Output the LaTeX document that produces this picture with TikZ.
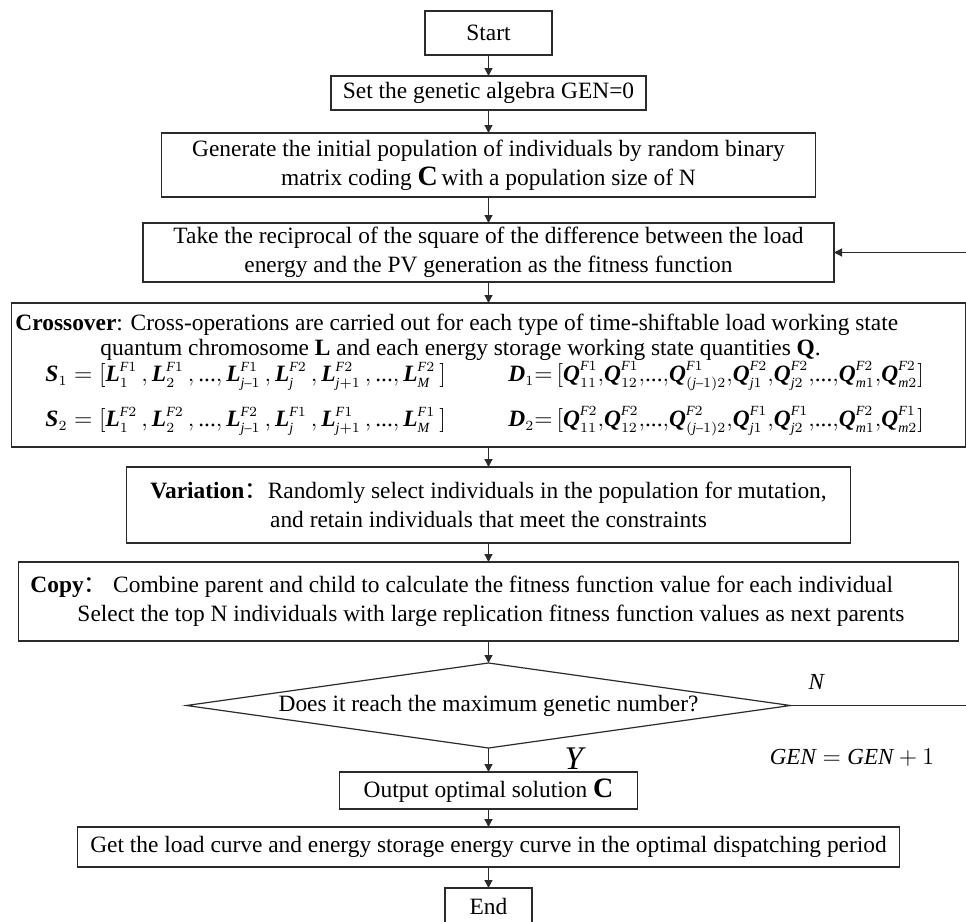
\documentclass[tikz,border=0pt]{standalone}
\usepackage{amsmath}
\usepackage{fontspec}
\setmainfont{Liberation Serif}
\newfontfamily\cjkfont{Noto Sans CJK SC}
\usetikzlibrary{
  arrows.meta,
  shapes.geometric,
  positioning
}
\DeclareMathSizes{11.7}{11.7}{7}{5.5}
\definecolor{gaLine}{HTML}{2B2B2B}
\newcommand{\gafont}{\fontsize{11.7}{14.5}\selectfont}
\newcommand{\gatight}{\fontsize{11.7}{12.5}\selectfont\lineskiplimit=-100pt\relax}
\newcommand{\bvar}[1]{\text{\bfseries\itshape #1}}
\newcommand{\gaj}{\mathit{j}}
\newcommand{\gaL}[2]{\bvar{L}_{#1}^{\mathit{F}#2}\,}
\newcommand{\gaQ}[2]{\bvar{Q}_{#1}^{\mathit{F}#2}}
\tikzset{
  gabox/.style={
    draw=gaLine, line width=0.6pt, inner xsep=2pt, inner ysep=0.5pt, outer sep=0pt,
    align=center, font=\gafont
  },
  gadecide/.style={gabox, diamond, aspect=7.1, inner sep=0pt},
  gaflow/.style={-{Triangle[length=4pt, width=4pt]}, line width=0.6pt, gaLine},
  gatag/.style={font=\fontsize{11.5}{12}\selectfont, inner sep=0pt, outer sep=0pt}
}

\begin{document}
\begin{tikzpicture}[x=0.5pt, y=-0.5pt, node distance=10.5pt]
  \useasboundingbox (0,0) rectangle (966,922);
  \node[gabox, minimum width=63.5pt, minimum height=22pt] (start) at (488.5,33) {Start};
  \node[gabox, minimum width=157.5pt, minimum height=17pt, below=of start] (gen0) {Set the genetic algebra GEN=0};
  \node[gabox, minimum width=327pt, minimum height=32pt, below=11.5pt of gen0] (init) {Generate the initial population of individuals by random binary\\
    matrix coding {\bfseries\fontsize{14}{14}\selectfont C}\,with a population size of N};
  \node[gabox, minimum width=345.5pt, minimum height=29.5pt, below=13pt of init] (fit) {Take the reciprocal of the square of the difference between the load\\
    energy and the PV generation as the fitness function};
  \node[gabox, minimum width=477pt, minimum height=72pt, text width=473pt, align=flush left,
    font=\gatight, below=of fit] (cross) {\mbox{\textbf{Crossover}: Cross-operations are carried out for each type of time-shiftable load working state}\\
    \hspace*{42.5pt}quantum chromosome \textbf{L} and each energy storage working state quantities \textbf{Q}.\\[0.5pt]
    \hspace*{15pt}\makebox[231.5pt][l]{$\bvar{S}_1 = [\gaL{1}{1},\gaL{2}{1},\text{...},\gaL{\gaj\text{--}1}{1},\gaL{\gaj}{2},\gaL{\gaj+1}{2},\text{...},\gaL{\mathit{M}}{2}]$}%
    $\bvar{D}_1 {=}\,[\gaQ{11}{1}{,}\gaQ{12}{1}{,}\text{...}{,}\gaQ{(\gaj\text{--}1)2}{1}{,}\gaQ{\gaj1}{2}{,}\gaQ{\gaj2}{2}{,}\text{...}{,}\gaQ{\mathit{m}1}{2}{,}\gaQ{\mathit{m}2}{2}]$\\[10pt]
    \hspace*{15pt}\makebox[231.5pt][l]{$\bvar{S}_2 = [\gaL{1}{2},\gaL{2}{2},\text{...},\gaL{\gaj\text{--}1}{2},\gaL{\gaj}{1},\gaL{\gaj+1}{1},\text{...},\gaL{\mathit{M}}{1}]$}%
    $\bvar{D}_2 {=}\,[\gaQ{11}{2}{,}\gaQ{12}{2}{,}\text{...}{,}\gaQ{(\gaj\text{--}1)2}{2}{,}\gaQ{\gaj1}{1}{,}\gaQ{\gaj2}{1}{,}\text{...}{,}\gaQ{\mathit{m}1}{2}{,}\gaQ{\mathit{m}2}{1}]$};
  \node[gabox, minimum width=362pt, minimum height=38pt, below=10pt of cross] (vari) {\textbf{Variation}{\cjkfont ：}Randomly select individuals in the population for mutation,\\
    and retain individuals that meet the constraints};
  \node[gabox, minimum width=470pt, minimum height=39.5pt, text width=458pt, inner xsep=6pt, align=flush left,
    below=9.5pt of vari] (copy) {\textbf{Copy}{\cjkfont ：}\hspace{3pt}Combine parent and child to calculate the fitness function value for each individual\\
    \hspace*{23.5pt}Select the top N individuals with large replication fitness function values as next parents};
  \node[gadecide, minimum width=302pt, minimum height=42.5pt, below=11pt of copy] (dec) {Does it reach the maximum genetic number?};
  \node[gabox, minimum width=149pt, minimum height=18.5pt, below=12pt of dec] (out) {Output optimal solution {\bfseries\fontsize{14}{14}\selectfont C}};
  \node[gabox, minimum width=411pt, minimum height=20pt, below=9pt of out] (get) {Get the load curve and energy storage energy curve in the optimal dispatching period};
  \node[gabox, minimum width=43.5pt, minimum height=18pt, below=of get] (end) {End};

  \node[gatag, above right=8pt and 9pt of dec.east] (no) {$\mathit{N}$};
  \node[gatag, font=\fontsize{16.5}{17}\selectfont, below right=0pt and 38pt of dec.south] (yes) {$\mathit{Y}$};
  \node[gatag] (incr) at (852,758) {$\mathit{GEN} = \mathit{GEN} + 1$};
  \coordinate (back) at (972,706);

  \draw[gaflow] (gen0.north |- start.south) -- (gen0.north);
  \draw[gaflow] (init.north |- gen0.south) -- (init.north);
  \draw[gaflow] (fit.north |- init.south) -- (fit.north);
  \draw[gaflow] (cross.north |- fit.south) -- (cross.north);
  \draw[gaflow] (vari.north |- cross.south) -- (vari.north);
  \draw[gaflow] (copy.north |- vari.south) -- (copy.north);
  \draw[gaflow] (dec.north |- copy.south) -- (dec.north);
  \draw[gaflow] (dec.south) -- (dec.south |- out.north);
  \draw[gaflow] (get.north |- out.south) -- (get.north);
  \draw[gaflow] (end.north |- get.south) -- (end.north);
  \draw[gaflow] (dec.east) -- (dec.east -| back) |- (fit.east);
\end{tikzpicture}
\end{document}
